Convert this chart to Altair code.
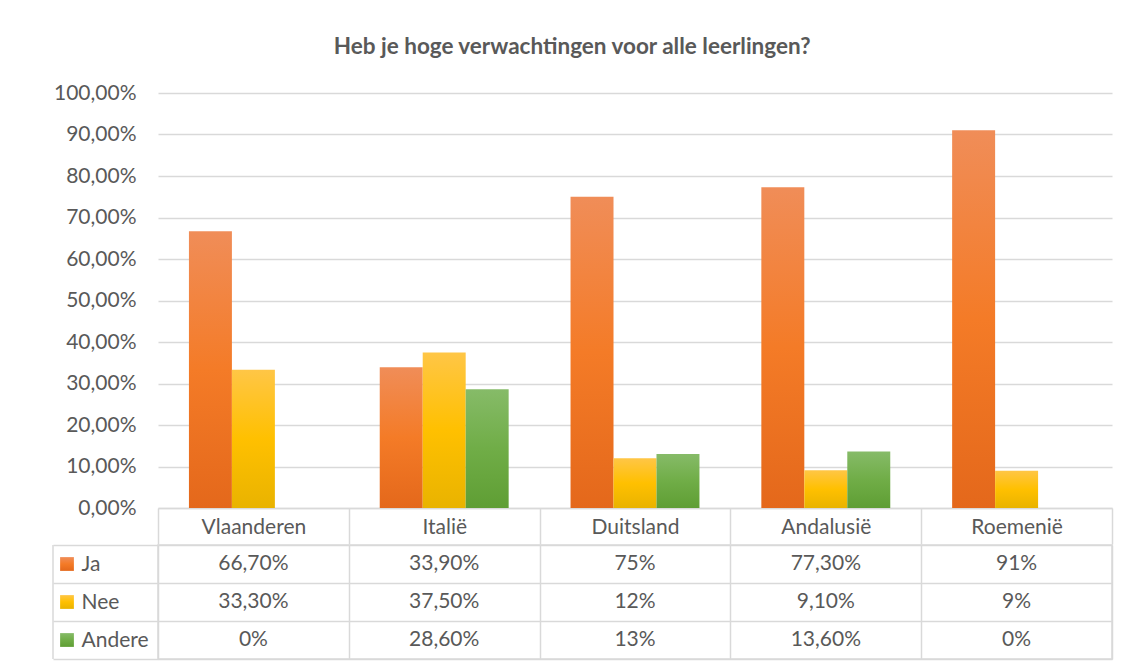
import altair as alt
import pandas as pd

# ---- data ----
title_text = "Heb je hoge verwachtingen voor alle leerlingen?"
countries = ["Vlaanderen", "Italië", "Duitsland", "Andalusië", "Roemenië"]
series = ["Ja", "Nee", "Andere"]
ja = [0.667, 0.339, 0.75, 0.773, 0.91]
nee = [0.333, 0.375, 0.12, 0.091, 0.09]
andere = [0.0, 0.286, 0.13, 0.136, 0.0]
ja_labels = ["66,70%", "33,90%", "75%", "77,30%", "91%"]
nee_labels = ["33,30%", "37,50%", "12%", "9,10%", "9%"]
andere_labels = ["0%", "28,60%", "13%", "13,60%", "0%"]
y_ticks = [0.0, 0.1, 0.2, 0.3, 0.4, 0.5, 0.6, 0.7, 0.8, 0.9, 1.0]

rows = []
for s, vals, labs in zip(series, [ja, nee, andere], [ja_labels, nee_labels, andere_labels]):
    for c, v, l in zip(countries, vals, labs):
        rows.append({"land": c, "reeks": s, "waarde": v, "label": l})
df = pd.DataFrame(rows)
series_df = pd.DataFrame({"reeks": series})

# ---- styles ----
FONT = "Lato"
TXT = "#595959"
GRID = "#D9D9D9"
grad = {
    "Ja": ["#F08D58", "#F47B27", "#E4681B"],
    "Nee": ["#FFC646", "#FFC000", "#E9B300"],
    "Andere": ["#86BB68", "#70AD47", "#5F9E34"],
}


def gradient(cols):
    return alt.Gradient(
        gradient="linear", x1=0, x2=0, y1=0, y2=1,
        stops=[alt.GradientStop(offset=0, color=cols[0]),
               alt.GradientStop(offset=0.5, color=cols[1]),
               alt.GradientStop(offset=1, color=cols[2])],
    )


x_scale = alt.Scale(domain=countries, paddingInner=0, paddingOuter=0)

x_bar = alt.X(
    "land:N", sort=countries, scale=x_scale,
    axis=alt.Axis(title=None, labelAngle=0, grid=False,
                  domainColor=GRID, domainWidth=1.5,
                  tickColor=GRID, tickWidth=1.5, tickSize=36, tickBand="extent",
                  labelBaseline="middle", labelPadding=-17,
                  labelFont=FONT, labelFontSize=21, labelColor=TXT),
)
x_off = alt.XOffset("reeks:N", sort=series,
                    scale=alt.Scale(domain=series, paddingInner=0, paddingOuter=0.72))
y_bar = alt.Y(
    "waarde:Q", scale=alt.Scale(domain=[0, 1]),
    axis=alt.Axis(title=None, values=y_ticks,
                  labelExpr="replace(format(datum.value, '.2%'), '.', ',')",
                  grid=True, gridColor=GRID, gridWidth=1.5,
                  domain=False, ticks=False, labelPadding=22,
                  labelFont=FONT, labelFontSize=21, labelColor=TXT),
)

bar_layers = [
    alt.Chart(df).transform_filter(alt.datum.reeks == s)
    .mark_bar(color=gradient(grad[s]))
    .encode(x=x_bar, xOffset=x_off, y=y_bar)
    for s in series
]
bars = alt.layer(*bar_layers).properties(
    width=954, height=415, view=alt.ViewBackground(stroke=None)
)

# ---- data table ----
x_tab = alt.X(
    "land:N", sort=countries, scale=x_scale,
    axis=alt.Axis(title=None, labels=False, ticks=False, domain=False,
                  grid=True, tickBand="extent", gridColor=GRID, gridWidth=1.5),
)
y_tab = alt.Y(
    "reeks:N", sort=series,
    scale=alt.Scale(domain=series, paddingInner=0, paddingOuter=0),
    axis=alt.Axis(title=None, grid=True, gridColor=GRID, gridWidth=1.5,
                  tickBand="extent", ticks=True, tickSize=105, tickColor=GRID,
                  tickWidth=1.5, domain=False, labelAlign="left", labelPadding=-28,
                  labelFont=FONT, labelFontSize=21, labelColor=TXT),
)

cells = alt.Chart(df).mark_text(font=FONT, fontSize=21, color=TXT).encode(
    x=x_tab, y=y_tab, text="label:N"
)
square_layers = [
    alt.Chart(series_df).transform_filter(alt.datum.reeks == s)
    .mark_square(size=190, opacity=1, color=gradient(grad[s]))
    .encode(x=alt.value(-91), y=y_tab)
    for s in series
]
left_edge = alt.Chart(pd.DataFrame({"k": [0]})).mark_rule(color=GRID, strokeWidth=1.5).encode(
    x=alt.value(-105), y=alt.value(0), y2=alt.value(114)
)

table = alt.layer(cells, *square_layers, left_edge).properties(
    width=954, height=114, view=alt.ViewBackground(stroke=GRID, strokeWidth=1.5)
)

chart = alt.vconcat(bars, table, spacing=-12).properties(
    title=alt.TitleParams(title_text, font=FONT, fontSize=22.5, fontWeight="bold",
                          color=TXT, anchor="middle", offset=24, dx=-10),
    padding={"left": 43, "top": 27, "right": 5, "bottom": 2},
).configure_view(stroke=None)

chart.save("out.html", embed_options={"renderer": "svg", "actions": False})
